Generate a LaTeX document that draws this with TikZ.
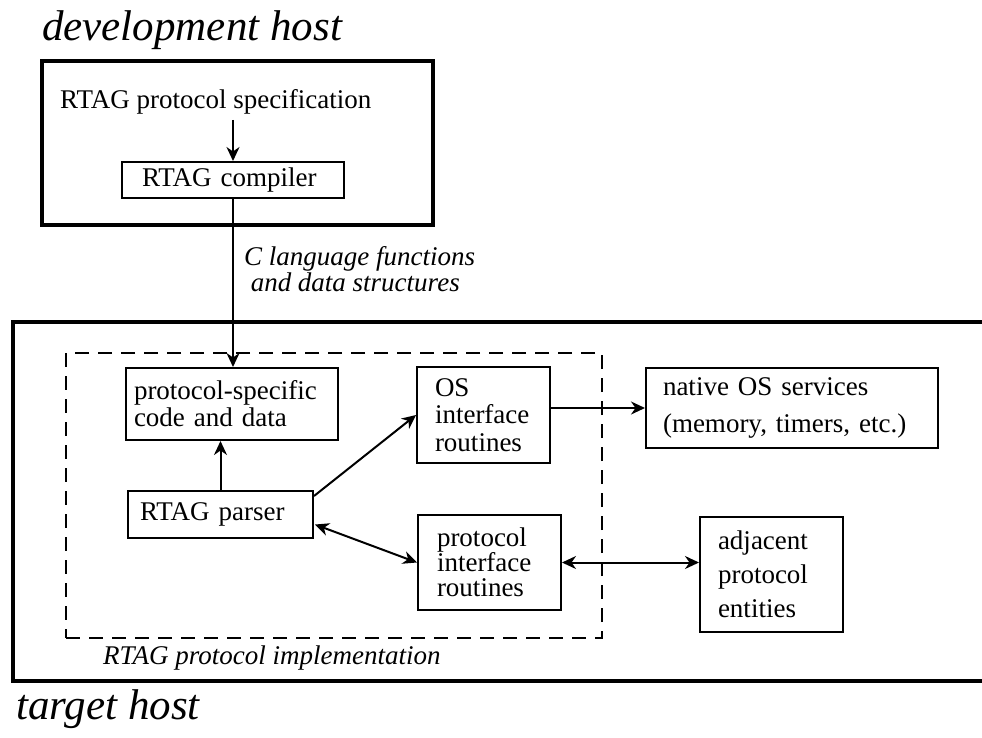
\documentclass[tikz,border=0pt]{standalone}
\usepackage{fontspec}
\setmainfont{Liberation Serif}
\usetikzlibrary{arrows.meta,calc}
\begin{document}
\begin{tikzpicture}[x=1pt,y=-1pt,
  every node/.style={font=\fontsize{27}{27}\selectfont, inner sep=0pt},
  box/.style={draw, line width=2pt, align=left, inner ysep=0pt},
  host/.style={draw, line width=3.4pt},
  tip/.tip={Stealth[length=14pt,width=13pt,inset=4.5pt]},
  arr/.style={line width=2pt, -tip},
  darr/.style={line width=2pt, tip-tip},
  title/.style={font=\fontsize{43}{43}\selectfont\itshape},
  note/.style={font=\fontsize{27}{26}\selectfont\itshape, align=left}]

\useasboundingbox (0,0) rectangle (982,737);
\fill[white] (0,0) rectangle (982,737);

% development host
\node[title, anchor=base west] (devtitle) at (42,40) {development host};
\node[host, minimum width=391pt, minimum height=164pt] (dev) at (237.5,143) {};
\node[anchor=base west] (spec) at (60,108) {RTAG protocol specification};
\node[box, minimum width=222pt, minimum height=36pt, inner xsep=20pt, text width=182pt]
  (compiler) at (233,180) {RTAG compiler};

% target host (open to the right)
\coordinate (thtl) at (13,322);
\coordinate (thbl) at (13,681);
\draw[line width=3.4pt] (thtl -| 982,0) -- (thtl) -- (thbl) -- (thbl -| 982,0);
\node[title, anchor=base west] (tgttitle) at (16,719) {target host};

% RTAG protocol implementation
\node[draw, line width=2pt, dash pattern=on 14pt off 9pt,
  minimum width=536pt, minimum height=285pt] (impl) at (334,495.5) {};
\node[note, anchor=base west] (impllabel) at (103,664) {RTAG protocol implementation};

\node[box, minimum width=212pt, minimum height=72pt, inner xsep=8pt, text width=196pt]
  (ps) at (232,404) {protocol-specific\\code and data};
\node[box, minimum width=185pt, minimum height=47pt, inner xsep=12pt, text width=161pt]
  (parser) at (220.5,514.5) {RTAG parser};
\node[box, font=\fontsize{27}{27.5}\selectfont, minimum width=133pt, minimum height=96pt,
  inner xsep=18pt, text width=97pt] (os) at (483.5,415) {OS\\interface\\routines};
\node[box, font=\fontsize{27}{25}\selectfont, minimum width=143pt, minimum height=95pt,
  inner xsep=19pt, text width=105pt] (proto) at (489.5,562.5) {protocol\\interface\\routines};

% external entities
\node[box, font=\fontsize{27}{37}\selectfont, minimum width=292pt, minimum height=80pt,
  inner xsep=17pt, text width=258pt] (native) at (792,408) {native OS services\\(memory, timers, etc.)};
\node[box, font=\fontsize{27}{34}\selectfont, minimum width=143pt, minimum height=115pt,
  inner xsep=18pt, text width=107pt] (adj) at (771.5,574.5) {adjacent\\protocol\\entities};

% connectors
\draw[arr] (spec.south -| compiler.north) ++(0,6) -- (compiler.north);
\draw[arr] (compiler.south) -- (compiler.south |- ps.north)
  node[note, anchor=west, pos=0.42, xshift=10pt] (clabel) {C language functions\\\ and data structures};
\draw[arr] (parser.north) -- (parser.north |- ps.south);
\draw[arr] ($(parser.north east)+(0,6)$) -- (os.west);
\draw[darr] ($(parser.east)+(1,10)$) -- (proto.west);
\draw[arr] (native.west -| os.east) -- (native.west);
\draw[darr] (proto.east) -- (proto.east -| adj.west);
\end{tikzpicture}
\end{document}
